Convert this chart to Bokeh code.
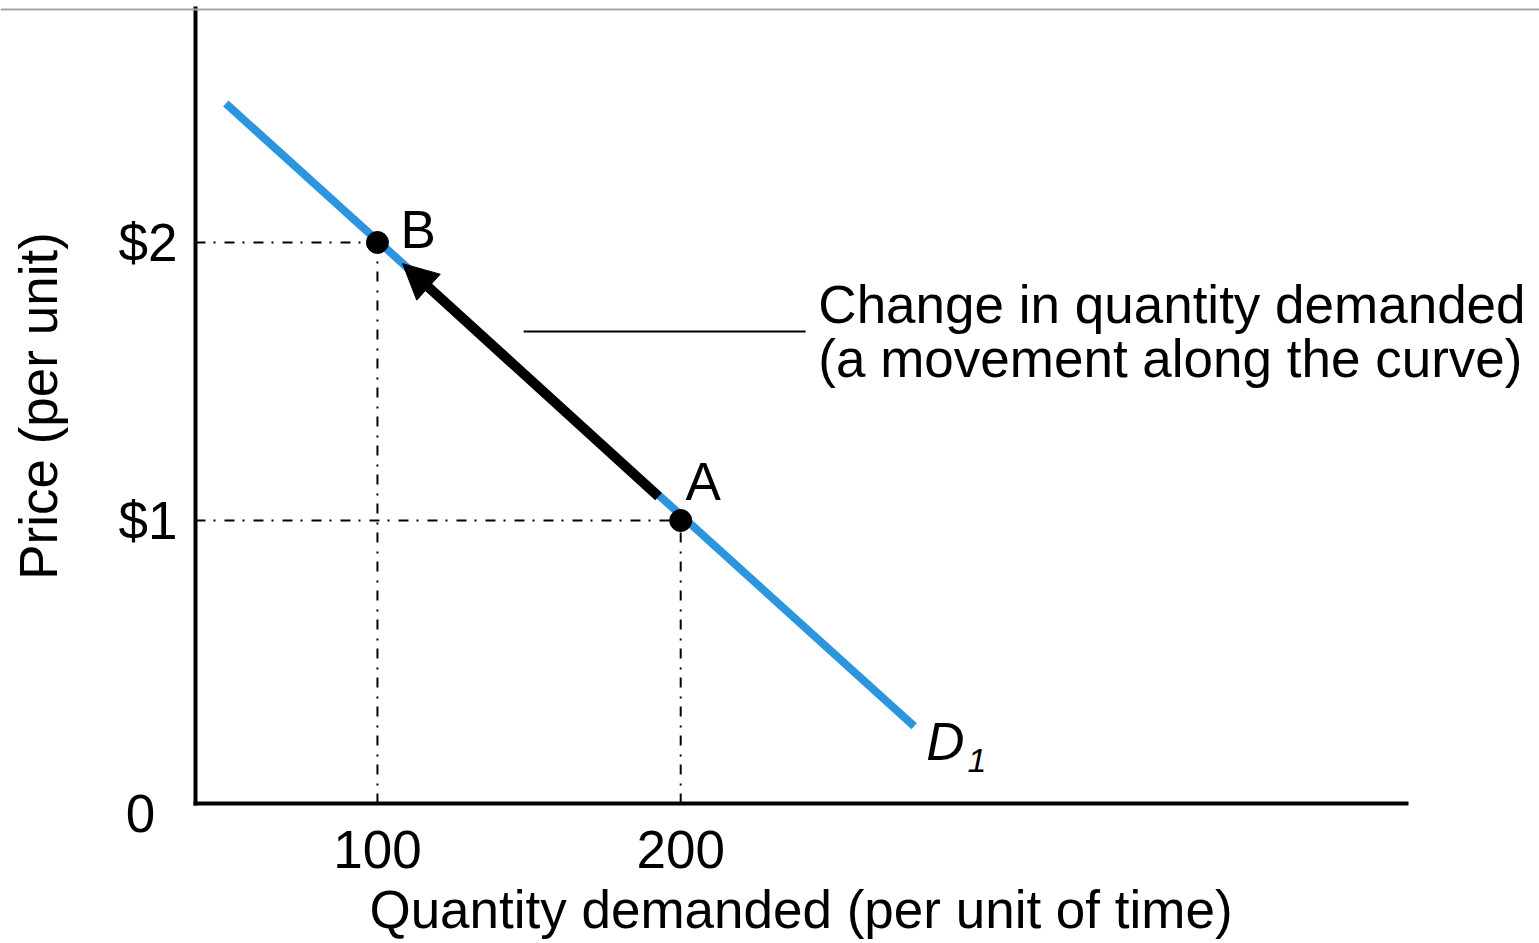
from bokeh.plotting import figure
from bokeh.models import Range1d, FixedTicker, Arrow, NormalHead, Span
from bokeh.core.properties import value
from bokeh.embed import file_html
from bokeh.resources import INLINE

FONT = "Liberation Sans"
FS = "53px"

# ---- data ----
demand_q = [50, 277]
demand_p = [2.50, 0.26]
point_names = ["B", "A"]
point_q = [100, 200]
point_p = [2, 1]
x_ticks = [100, 200]
x_tick_labels = ["100", "200"]
y_ticks = [1, 2]
y_tick_labels = ["$1", "$2"]
move_start = (192.7, 1.086)
move_end = (108.3, 1.924)
note_lines = ["Change in quantity demanded", "(a movement along the curve)"]
curve_name = "D"
curve_sub = "1"
x_title = "Quantity demanded (per unit of time)"
y_title = "Price (per unit)"
origin_label = "0"

BLUE = "#2b96de"

# axis origin (data) and extents
X0, Y0 = 40, -0.018
XMAX, YMAX = 440, 2.849
T = 0.068  # baseline correction for svg text

p = figure(width=1539, height=943,
           x_range=Range1d(-24.30, 483.2), y_range=Range1d(-0.5216, 2.8705),
           output_backend="svg", toolbar_location=None,
           min_border_left=0, min_border_right=0,
           min_border_top=0, min_border_bottom=0)
p.grid.visible = False
p.outline_line_color = None
p.background_fill_color = "white"
p.border_fill_color = "white"

# top thin grey rule
p.add_layout(Span(location=2.838, dimension="width", line_color="#a6a6a6", line_width=2))

# axes (drawn at the origin inside the frame)
xa = p.xaxis[0]
xa.fixed_location = Y0
xa.ticker = FixedTicker(ticks=x_ticks)
xa.major_label_overrides = {t: l for t, l in zip(x_ticks, x_tick_labels)}
xa.bounds = (X0 - 0.7, XMAX)
xa.axis_line_width = 4
xa.axis_line_color = "black"
xa.major_tick_line_color = None
xa.minor_tick_line_color = None
xa.major_label_text_font = FONT
xa.major_label_text_font_size = FS
xa.major_label_text_color = "black"
xa.major_label_standoff = 22
xa.axis_label = x_title
xa.axis_label_text_font = FONT
xa.axis_label_text_font_size = FS
xa.axis_label_text_font_style = "normal"
xa.axis_label_text_color = "black"
xa.axis_label_standoff = 8

ya = p.yaxis[0]
ya.fixed_location = X0
ya.ticker = FixedTicker(ticks=y_ticks)
ya.major_label_overrides = {t: l for t, l in zip(y_ticks, y_tick_labels)}
ya.bounds = (Y0 - 0.007, YMAX)
ya.axis_line_width = 4
ya.axis_line_color = "black"
ya.major_tick_line_color = None
ya.minor_tick_line_color = None
ya.major_label_text_font = FONT
ya.major_label_text_font_size = FS
ya.major_label_text_color = "black"
ya.major_label_standoff = 12
ya.axis_label = y_title
ya.axis_label_text_font = FONT
ya.axis_label_text_font_size = FS
ya.axis_label_text_font_style = "normal"
ya.axis_label_text_color = "black"
ya.axis_label_standoff = 48

# dash-dot guides
for q, pr in zip(point_q, point_p):
    p.line([X0, q], [pr, pr], line_color="black", line_width=2, line_dash="10 8 2 9")
    p.line([q, q], [Y0, pr], line_color="black", line_width=2, line_dash="10 8 2 9")

# demand curve
p.line(demand_q, demand_p, line_color=BLUE, line_width=8)

# movement arrow
p.add_layout(Arrow(end=NormalHead(size=35, fill_color="black", line_color="black", line_width=1),
                   x_start=move_start[0], y_start=move_start[1],
                   x_end=move_end[0], y_end=move_end[1],
                   line_color="black", line_width=10))

# points
p.scatter(point_q, point_p, size=22, color="black")

# point labels
p.text(x=[107.6, 201.6], y=[1.978 + T, 1.072 + T], text=point_names,
       text_font=value(FONT), text_font_size=FS, text_color="black",
       text_align="left", text_baseline="alphabetic")

# curve label
p.text(x=[281.0], y=[0.137 + T], text=[curve_name], text_font=value(FONT),
       text_font_size=FS, text_font_style="italic", text_color="black",
       text_align="left", text_baseline="alphabetic")
p.text(x=[294.6], y=[0.09 + 0.045], text=[curve_sub], text_font=value(FONT),
       text_font_size="34px", text_font_style="italic", text_color="black",
       text_align="left", text_baseline="alphabetic")

# annotation leader + note
p.line([148.2, 241.2], [1.680, 1.680], line_color="black", line_width=2)
p.text(x=[245.4, 245.4], y=[1.709 + T, 1.514 + T], text=note_lines,
       text_font=value(FONT), text_font_size=FS, text_color="black",
       text_align="left", text_baseline="alphabetic")

# origin label
p.text(x=[21.9], y=[-0.122 + T], text=[origin_label], text_font=value(FONT),
       text_font_size=FS, text_color="black",
       text_align="center", text_baseline="alphabetic")

open("out.html", "w").write(file_html(p, INLINE))
